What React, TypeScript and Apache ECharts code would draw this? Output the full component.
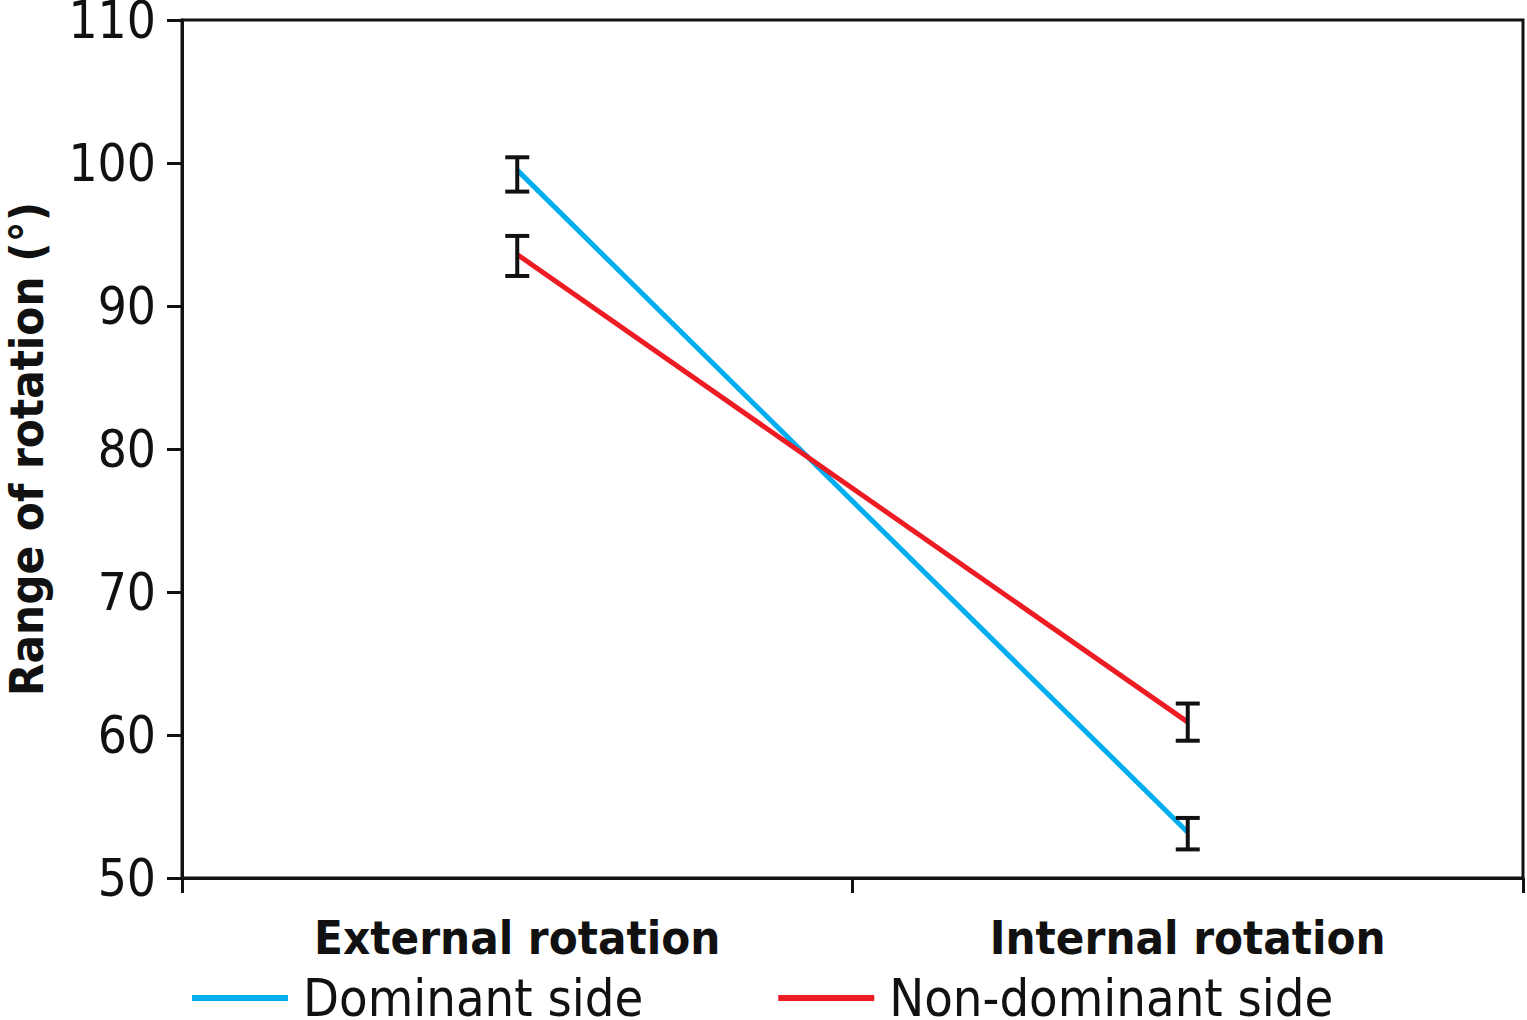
import React, { useEffect, useRef } from "react";
import * as echarts from "echarts";

const categories = ["External rotation", "Internal rotation"];
const dominant = [99.5, 53.2];
const nonDominant = [93.6, 60.9];
const dominantErrLow = [98.0, 52.0];
const dominantErrHigh = [100.4, 54.2];
const nonDominantErrLow = [92.1, 59.6];
const nonDominantErrHigh = [94.9, 62.2];
const yTicks = { min: 50, max: 110, interval: 10 };

const FONT = "'DejaVu Sans Condensed', 'Open Sans', sans-serif";

function errorSeries(name: string, lows: number[], highs: number[]) {
  return {
    type: "custom",
    name,
    silent: true,
    z: 5,
    data: lows.map((l, i) => [i, l, highs[i]]),
    renderItem: (params: any, api: any) => {
      const x = api.value(0);
      const lo = api.coord([x, api.value(1)]);
      const hi = api.coord([x, api.value(2)]);
      const hw = 12;
      const style = { stroke: "#111", lineWidth: 4 };
      return {
        type: "group",
        children: [
          { type: "line", shape: { x1: lo[0], y1: lo[1], x2: hi[0], y2: hi[1] }, style },
          { type: "line", shape: { x1: hi[0] - hw, y1: hi[1], x2: hi[0] + hw, y2: hi[1] }, style },
          { type: "line", shape: { x1: lo[0] - hw, y1: lo[1], x2: lo[0] + hw, y2: lo[1] }, style },
        ],
      };
    },
  };
}

export default function App() {
  const ref = useRef<HTMLDivElement>(null);
  useEffect(() => {
    if (!ref.current) return;
    const chart = echarts.init(ref.current, null, { renderer: "svg" });
    chart.setOption({
      animation: false,
      backgroundColor: "#fff",
      grid: {
        left: 182,
        right: 4,
        top: 20,
        bottom: 142,
        show: true,
        borderColor: "#111",
        borderWidth: 3,
        containLabel: false,
        outerBoundsMode: "none",
      },
      legend: {
        left: 192,
        top: 972,
        padding: 0,
        itemWidth: 96,
        itemHeight: 6,
        itemGap: 135,
        icon: "rect",
        textStyle: {
          fontFamily: FONT,
          fontSize: 52,
          lineHeight: 40,
          color: "#111",
          padding: [0, 0, 0, 10],
        },
        data: ["Dominant side", "Non-dominant side"],
      },
      xAxis: {
        type: "category",
        data: categories,
        boundaryGap: true,
        axisLine: { lineStyle: { color: "#111", width: 3 } },
        axisTick: { show: true, length: 15, lineStyle: { color: "#111", width: 3 } },
        axisLabel: {
          fontFamily: FONT,
          fontSize: 47,
          fontWeight: "bold",
          color: "#111",
          margin: 36,
        },
        splitLine: { show: false },
      },
      yAxis: {
        type: "value",
        min: yTicks.min,
        max: yTicks.max,
        interval: yTicks.interval,
        name: "Range of rotation (°)",
        nameLocation: "middle",
        nameRotate: 90,
        nameGap: 132,
        nameTextStyle: { fontFamily: FONT, fontSize: 47, fontWeight: "bold", color: "#111" },
        axisLine: { show: true, lineStyle: { color: "#111", width: 3 } },
        axisTick: { show: true, length: 15, lineStyle: { color: "#111", width: 3 } },
        axisLabel: { fontFamily: FONT, fontSize: 51, lineHeight: 40, color: "#111", margin: 26 },
        splitLine: { show: false },
      },
      series: [
        {
          type: "line",
          name: "Dominant side",
          data: dominant,
          symbol: "none",
          lineStyle: { color: "#00AEEF", width: 5 },
          itemStyle: { color: "#00AEEF" },
          z: 3,
        },
        {
          type: "line",
          name: "Non-dominant side",
          data: nonDominant,
          symbol: "none",
          lineStyle: { color: "#ED1C24", width: 5 },
          itemStyle: { color: "#ED1C24" },
          z: 4,
        },
        errorSeries("errDominant", dominantErrLow, dominantErrHigh),
        errorSeries("errNonDominant", nonDominantErrLow, nonDominantErrHigh),
      ],
    });
    return () => chart.dispose();
  }, []);
  return (
    <div
      ref={ref}
      style={{ position: "absolute", left: 0, top: 0, width: 1527, height: 1020 }}
    />
  );
}
